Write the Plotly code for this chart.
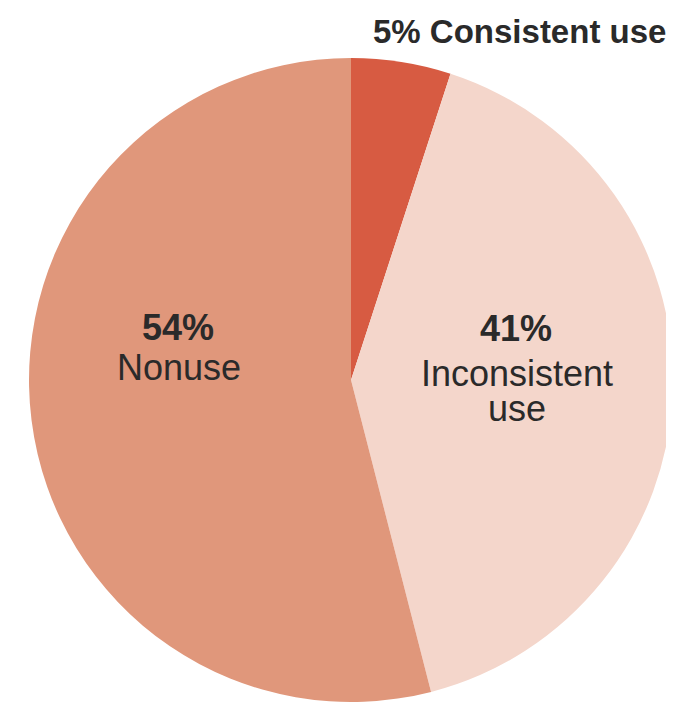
import plotly.graph_objects as go

# Data
categories = ["Consistent use", "Inconsistent use", "Nonuse"]
values = [5, 41, 54]
colors = ["#D75B42", "#F4D6CB", "#E0977B"]

# The page body has an 8px margin, so the figure is shifted by that offset
OFF = 8
W, H = 674 - OFF, 706 - OFF
FONT = "Liberation Sans, Arial, sans-serif"
TXT = "#2a2a2a"


def px(x, y):
    """Convert target screenshot pixel coords to paper coords."""
    return (x - OFF) / W, 1 - (y - OFF) / H


x0, _ = px(29, 0)
x1, _ = px(673, 0)
_, y1 = px(0, 58)
_, y0 = px(0, 702)

fig = go.Figure(go.Pie(
    labels=categories,
    values=values,
    sort=False,
    direction="clockwise",
    rotation=0,
    marker=dict(colors=colors, line=dict(width=0)),
    textinfo="none",
    hoverinfo="label+percent",
    showlegend=False,
    domain=dict(x=[x0, x1], y=[y0, y1]),
))

annotations = []

x, y = px(668, 31)
annotations.append(dict(x=x, y=y, xref="paper", yref="paper", xanchor="right", yanchor="middle",
                        text=f"<b>{values[0]}% {categories[0]}</b>", showarrow=False,
                        font=dict(family=FONT, size=33, color=TXT)))

for txt, (cx, cy), bold in [
    (f"{values[2]}%", (178, 327), True),
    (categories[2], (179, 367), False),
    (f"{values[1]}%", (516, 328), True),
    ("Inconsistent", (517, 374), False),
    ("use", (517, 408), False),
]:
    x, y = px(cx, cy)
    annotations.append(dict(x=x, y=y, xref="paper", yref="paper", xanchor="center", yanchor="middle",
                            text=f"<b>{txt}</b>" if bold else txt, showarrow=False,
                            font=dict(family=FONT, size=36, color=TXT)))

fig.update_layout(
    width=W, height=H,
    margin=dict(l=0, r=0, t=0, b=0),
    paper_bgcolor="white",
    plot_bgcolor="white",
    annotations=annotations,
)

fig.write_html("out.html")
